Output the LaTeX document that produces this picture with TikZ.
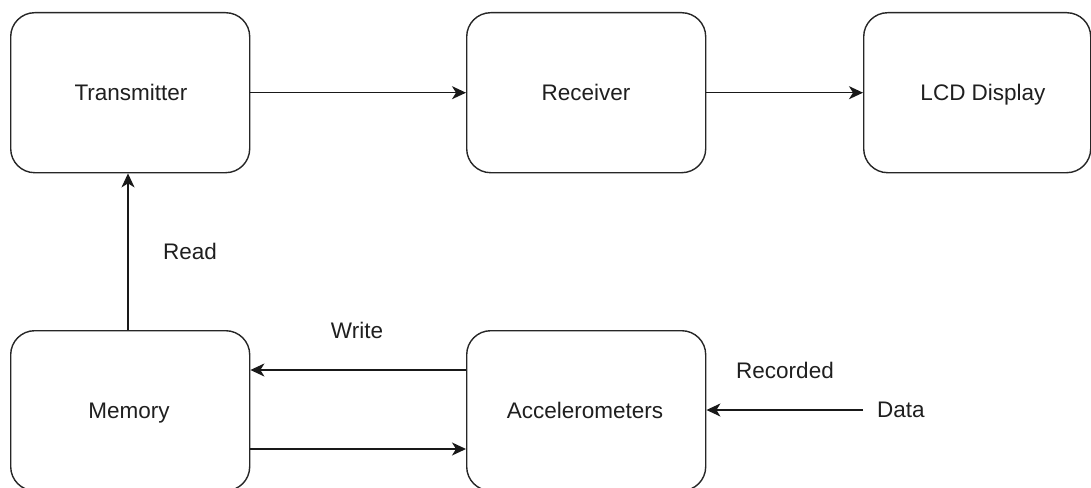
\documentclass[tikz,border=0pt]{standalone}
\usepackage{fontspec}
\setmainfont{Liberation Sans}
\usetikzlibrary{arrows.meta}
\begin{document}
\begin{tikzpicture}[x=1pt,y=-1pt,
  block/.style={draw=black!85, line width=1.4pt, rounded corners=24pt, fill=white,
    minimum width=239pt, minimum height=160pt, anchor=north west, inner sep=0pt},
  link/.style={draw=black!90, line width=1.4pt,
    -{Stealth[length=14pt,width=13pt,inset=4pt]}},
  lbl/.style={font=\fontsize{22.5}{27}\selectfont, text=black!88, inner sep=0pt,
    anchor=base}]
  \useasboundingbox (0,0) rectangle (1091,487);
  \begin{scope}
    \clip (0,0) rectangle (1091,487);
    % upper row
    \node[block] (tx)  at (10,12)  {};
    \node[block] (rx)  at (466,12) {};
    \node[block, minimum width=227pt] (lcd) at (863,12) {};
    % lower row
    \node[block] (mem) at (10,330)  {};
    \node[block] (acc) at (466,330) {};
    % box captions
    \node[lbl] at (131,100) {Transmitter};
    \node[lbl] at (586,100) {Receiver};
    \node[lbl] at (983,100) {LCD Display};
    \node[lbl] at (129,418) {Memory};
    \node[lbl] at (585,418) {Accelerometers};
    % free end of the input line
    \coordinate (src) at (863,410);
    % connectors
    \draw[link] (tx.east) -- (rx.west);
    \draw[link] (rx.east) -- (lcd.west);
    \draw[link] (mem.north -| 128,0) -- (tx.south -| 128,0);
    \draw[link] (acc.west |- 0,370) -- (mem.east |- 0,370);
    \draw[link] (mem.east |- 0,449) -- (acc.west |- 0,449);
    \draw[link] (src) -- (acc.east |- src);
    % connector labels
    \node[lbl] (read)  at (190,259) {Read};
    \node[lbl] (write) at (357,338) {Write};
    \node[lbl] (rec)   at (785,378) {Recorded};
    \node[lbl, anchor=base west] (data) at (877,417) {Data};
  \end{scope}
\end{tikzpicture}
\end{document}
